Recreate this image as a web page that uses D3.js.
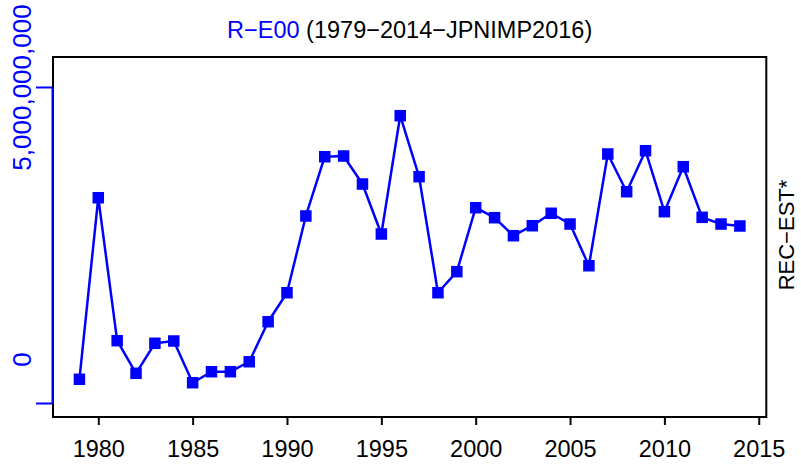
<!DOCTYPE html>
<html>
<head>
<meta charset="utf-8">
<script src="https://cdn.jsdelivr.net/npm/d3@7"></script>
<style>
  html, body { margin: 0; padding: 0; background: #fff; }
  svg { display: block; }
  text { font-family: "Liberation Sans", Arial, Helvetica, sans-serif; }
</style>
</head>
<body>
<svg id="chart" width="801" height="466"></svg>
<script>
// ---- data ----
const years = [1979,1980,1981,1982,1983,1984,1985,1986,1987,1988,1989,1990,1991,1992,1993,1994,1995,1996,1997,1998,1999,2000,2001,2002,2003,2004,2005,2006,2007,2008,2009,2010,2011,2012,2013,2014];
const recruitment = [0.375e9,3.248e9,0.986e9,0.470e9,0.945e9,0.981e9,0.321e9,0.495e9,0.495e9,0.653e9,1.286e9,1.745e9,2.959e9,3.897e9,3.908e9,3.465e9,2.674e9,4.546e9,3.581e9,1.745e9,2.078e9,3.090e9,2.932e9,2.647e9,2.805e9,3.002e9,2.832e9,2.172e9,3.940e9,3.343e9,3.992e9,3.027e9,3.739e9,2.938e9,2.832e9,2.801e9];
const xTicks = [1980,1985,1990,1995,2000,2005,2010,2015];
const yTicks = [0, 5e9];
const yTickLabels = ["0", "5,000,000,000"];
const titleBlue = "R\u2212E00";
const titleBlack = " (1979\u22122014\u2212JPNIMP2016)";
const rightLabel = "REC\u2212EST*";

// ---- layout ----
const mLeft = 53, mRight = 766.3, mTop = 57, mBottom = 417;
const blue = "#0000FF";
const svg = d3.select("#chart");

const x = d3.scaleLinear().domain([1977.6, 2015.4]).range([mLeft, mRight]);
const y = d3.scaleLinear().domain([0, 5e9]).range([403, 87]);

// box
svg.append("rect")
  .attr("x", mLeft).attr("y", mTop)
  .attr("width", mRight - mLeft).attr("height", mBottom - mTop)
  .attr("fill", "none").attr("stroke", "#000").attr("stroke-width", 2);

// x axis
const xAxis = svg.append("g")
  .attr("transform", `translate(0,${mBottom})`)
  .call(d3.axisBottom(x).tickValues(xTicks).tickFormat(d3.format("d")).tickSize(8).tickSizeOuter(0));
xAxis.select(".domain").remove();
xAxis.selectAll(".tick line").attr("stroke", "#000").attr("stroke-width", 2);
xAxis.selectAll(".tick text")
  .attr("y", 39.5).attr("dy", null)
  .attr("fill", "#000")
  .style("font-size", "23.5px");

// y axis
const yAxis = svg.append("g")
  .attr("transform", `translate(52,0)`)
  .call(d3.axisLeft(y).tickValues(yTicks).tickSize(16).tickSizeOuter(0)
        .tickFormat((d, i) => yTickLabels[i]));
yAxis.select(".domain").attr("stroke", blue).attr("stroke-width", 2);
yAxis.selectAll(".tick line").attr("stroke", blue).attr("stroke-width", 2);
yAxis.selectAll(".tick text")
  .attr("fill", blue)
  .style("font-size", "26px")
  .attr("text-anchor", "middle")
  .attr("dy", null)
  .attr("x", null)
  .attr("transform", (d) => `translate(-21,${d === 0 ? -44 : 0}) rotate(-90)`);

// line
const line = d3.line().x((d, i) => x(years[i])).y(d => y(d));
svg.append("path")
  .datum(recruitment)
  .attr("d", line)
  .attr("fill", "none")
  .attr("stroke", blue)
  .attr("stroke-width", 2.5)
  .attr("stroke-linejoin", "round");

// markers
const s = 11.5;
svg.append("g").selectAll("rect")
  .data(recruitment)
  .join("rect")
  .attr("x", (d, i) => x(years[i]) - s / 2)
  .attr("y", d => y(d) - s / 2)
  .attr("width", s).attr("height", s)
  .attr("fill", blue);

// title
const title = svg.append("text")
  .attr("x", (mLeft + mRight) / 2).attr("y", 37.5)
  .attr("text-anchor", "middle")
  .style("font-size", "23.5px");
title.append("tspan").attr("fill", blue).text(titleBlue);
title.append("tspan").attr("fill", "#000").text(titleBlack);

// right label
svg.append("text")
  .attr("transform", `translate(794,235) rotate(-90)`)
  .attr("text-anchor", "middle")
  .attr("fill", "#000")
  .style("font-size", "22px")
  .text(rightLabel);
</script>
</body>
</html>
